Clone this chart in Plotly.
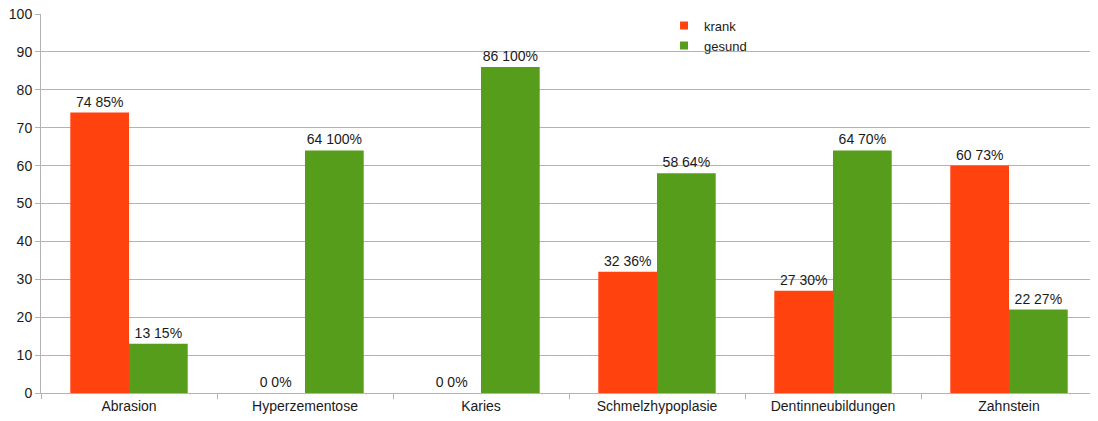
import plotly.graph_objects as go

categories = ["Abrasion", "Hyperzementose", "Karies", "Schmelzhypoplasie", "Dentinneubildungen", "Zahnstein"]
krank = [74, 0, 0, 32, 27, 60]
gesund = [13, 64, 86, 58, 64, 22]
krank_pct = ["85%", "0%", "0%", "36%", "30%", "73%"]
gesund_pct = ["15%", "100%", "100%", "64%", "70%", "27%"]

RED = "#ff420e"
GREEN = "#579d1c"
font = dict(family="Liberation Sans, Arial, sans-serif", size=14, color="#1a1a1a")

fig = go.Figure()
fig.add_trace(go.Bar(
    x=categories, y=krank, name="krank", marker=dict(color=RED, line=dict(width=0)),
    text=[f"{v} {p}" for v, p in zip(krank, krank_pct)],
    textposition="outside", cliponaxis=False, textfont=font, showlegend=False,
))
fig.add_trace(go.Bar(
    x=categories, y=gesund, name="gesund", marker=dict(color=GREEN, line=dict(width=0)),
    text=[f"{v} {p}" for v, p in zip(gesund, gesund_pct)],
    textposition="outside", cliponaxis=False, textfont=font, showlegend=False,
))
# legend entries with small square symbols
for name, col in [("krank", RED), ("gesund", GREEN)]:
    fig.add_trace(go.Scatter(
        x=[None], y=[None], mode="markers", name=name,
        marker=dict(symbol="square", size=8, color=col),
    ))

# page body adds 8px margin, so shift the figure accordingly
fig.update_layout(
    width=1090, height=413,
    margin=dict(l=33, r=1, t=6, b=28, autoexpand=False),
    paper_bgcolor="white", plot_bgcolor="white",
    font=font,
    barmode="group", bargap=0.333, bargroupgap=0,
    legend=dict(x=0.59, y=1.009, xanchor="left", yanchor="top",
                bgcolor="rgba(0,0,0,0)", font=dict(size=13),
                tracegroupgap=0, itemwidth=30),
)
fig.update_yaxes(
    range=[0, 100], dtick=10, showgrid=True, gridcolor="#b3b3b3",
    showline=True, linecolor="#b3b3b3", ticks="outside", ticklen=5,
    tickcolor="#b3b3b3", zeroline=False, ticklabeloverflow="allow",
    automargin=False,
)
fig.update_xaxes(
    showgrid=False, showline=True, linecolor="#b3b3b3",
    ticks="outside", ticklen=5, tickcolor="#b3b3b3", tickson="boundaries",
    automargin=False,
)

fig.write_html("out.html")
